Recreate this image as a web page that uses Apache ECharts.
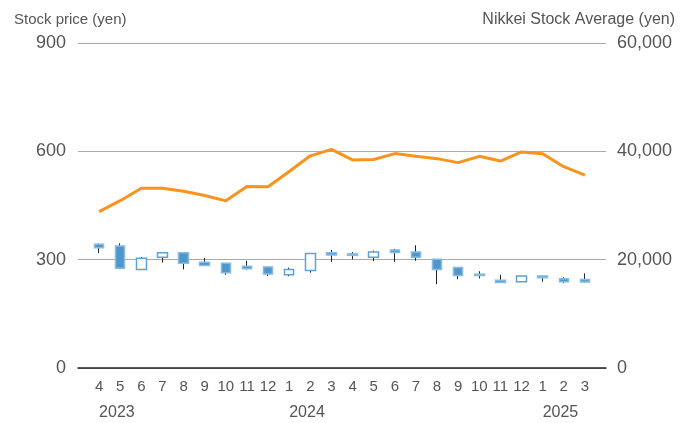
<!DOCTYPE html>
<html>
<head>
<meta charset="utf-8">
<script src="https://cdn.jsdelivr.net/npm/echarts@6/dist/echarts.min.js"></script>
<style>
  html, body { margin: 0; padding: 0; background: #fff; }
  #chart { width: 684px; height: 423px; }
</style>
</head>
<body>
<div id="chart"></div>
<script>
  // months Apr 2023 .. Mar 2025
  const months = ['4', '5', '6', '7', '8', '9', '10', '11', '12', '1', '2', '3',
    '4', '5', '6', '7', '8', '9', '10', '11', '12', '1', '2', '3']
  const years = { 0: '2023', 9: '2024', 21: '2025' }

  // stock price (yen)
  const open = [343, 338, 273, 307, 319, 293, 290, 282, 280, 258, 270, 319,
    316, 307, 327, 321, 301, 278, 260, 243, 239, 255, 247, 245]
  const close = [333, 276, 304, 319, 290, 284, 264, 275, 260, 273, 317, 313,
    312, 321, 320, 307, 273, 256, 256, 237, 255, 250, 239, 238]
  const low = [318, 275, 273, 292, 273, 284, 258, 273, 255, 254, 264, 294,
    301, 296, 294, 297, 232, 246, 248, 237, 239, 239, 235, 237]
  const high = [345, 345, 307, 320, 321, 305, 291, 297, 281, 278, 318, 327,
    321, 325, 330, 340, 301, 278, 268, 258, 255, 255, 251, 262]

  // Nikkei Stock Average (yen)
  const nikkei = [28860, 30890, 33190, 33170, 32620, 31860, 30860, 33490, 33460,
    36290, 39170, 40370, 38410, 38490, 39580, 39100, 38650, 37920, 39080,
    38210, 39890, 39570, 37160, 35620]

  // one empty slot at each end of the axis
  const cats = [''].concat(months, [''])
  const yearCats = cats.map((c, i) => years[i - 1] || '')
  const bodies = ['-'].concat(open.map((o, i) => [o, close[i], Math.min(o, close[i]), Math.max(o, close[i])]))
  const wicks = ['-'].concat(low.map((l, i) => [l, high[i], l, high[i]]))
  const line = ['-'].concat(nikkei)

  const chart = echarts.init(document.getElementById('chart'))
  const font = '"Liberation Sans", Arial, sans-serif'

  const option = {
    animation: false,
    textStyle: { fontFamily: font },
    title: [
      { text: 'Stock price (yen)', left: 9, top: 7,
        textStyle: { fontSize: 15, fontWeight: 'normal', color: '#555', fontFamily: font } },
      { text: 'Nikkei Stock Average (yen)', right: 4, top: 7,
        textStyle: { fontSize: 16, fontWeight: 'normal', color: '#555', fontFamily: font } }
    ],
    grid: { left: 78, right: 78, top: 43, bottom: 55 },
    xAxis: [
      {
        type: 'category',
        data: cats,
        boundaryGap: false,
        axisLine: { lineStyle: { color: '#222', width: 1.5 } },
        axisTick: { show: false },
        axisLabel: { interval: 0, margin: 11, color: '#555', fontSize: 15 }
      },
      {
        type: 'category',
        data: yearCats,
        position: 'bottom',
        boundaryGap: false,
        axisLine: { show: false },
        axisTick: { show: false },
        splitLine: { show: false },
        axisLabel: { interval: 0, margin: 37, color: '#555', fontSize: 16, align: 'left', padding: [0, 0, 0, 0] }
      }
    ],
    yAxis: [
      {
        type: 'value',
        min: 0,
        max: 900,
        interval: 300,
        axisLine: { show: false },
        axisTick: { show: false },
        axisLabel: { color: '#555', fontSize: 18, margin: 12 },
        splitLine: { lineStyle: { color: '#aaa', width: 1 } }
      },
      {
        type: 'value',
        min: 0,
        max: 60000,
        interval: 20000,
        axisLine: { show: false },
        axisTick: { show: false },
        splitLine: { show: false },
        axisLabel: {
          color: '#555', fontSize: 18, margin: 11,
          formatter: v => v.toLocaleString('en-US')
        }
      }
    ],
    series: [
      {
        name: 'wick',
        type: 'candlestick',
        data: wicks,
        barWidth: 1.3,
        z: 2,
        itemStyle: {
          color: '#222', color0: '#222', borderColor: '#222', borderColor0: '#222', borderWidth: 1
        }
      },
      {
        name: 'price',
        type: 'candlestick',
        data: bodies,
        barWidth: 10,
        z: 3,
        itemStyle: {
          color: '#ffffff',
          color0: '#4f97cb',
          borderColor: '#5da2d6',
          borderColor0: '#86bbe2',
          borderWidth: 1.5
        }
      },
      {
        name: 'Nikkei',
        type: 'line',
        yAxisIndex: 1,
        data: line,
        showSymbol: false,
        symbol: 'none',
        z: 4,
        lineStyle: { color: '#f7931e', width: 3 }
      }
    ]
  }

  chart.setOption(option)
</script>
</body>
</html>
